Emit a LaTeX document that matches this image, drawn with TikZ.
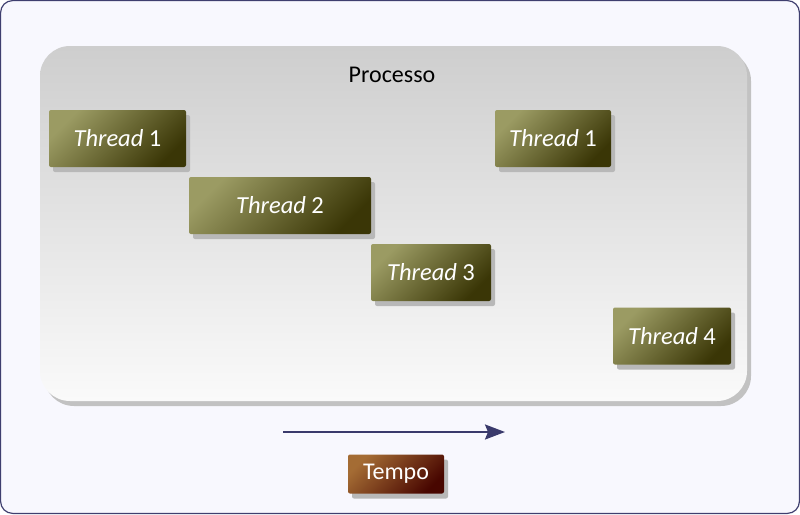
\documentclass[tikz,border=0pt]{standalone}
\usepackage{fontspec}
\setmainfont{Carlito}
\usetikzlibrary{arrows.meta,shadows,positioning}

\definecolor{framefill}{HTML}{F8F8FE}
\definecolor{frameline}{HTML}{3F3F6F}
\definecolor{proctop}{HTML}{CECECE}
\definecolor{procbottom}{HTML}{FAFAFA}
\definecolor{procshadow}{HTML}{C2C2C2}
\definecolor{threadlight}{HTML}{9B9B63}
\definecolor{threaddark}{HTML}{3A3606}
\definecolor{tempolight}{HTML}{A46C34}
\definecolor{tempodark}{HTML}{480600}
\definecolor{boxshadow}{HTML}{B8B8B8}
\definecolor{timeline}{HTML}{3A3A6C}

\begin{document}
\begin{tikzpicture}[%
x=1pt, y=-1pt,
>={Stealth[length=20pt,width=15pt,inset=3pt]},
thread/.style={rounded corners=2pt, top color=threadlight,
  bottom color=threaddark, shading angle=45, minimum height=57pt,
  inner sep=0pt, text=white, font=\fontsize{24.5}{28}\selectfont,
  drop shadow={shadow xshift=4pt, shadow yshift=-5pt,
  fill=boxshadow, opacity=1}},
tempobox/.style={thread, top color=tempolight, bottom color=tempodark,
  shading angle=45, minimum height=39pt, font=\fontsize{24}{28}\selectfont},
process/.style={rounded corners=30pt, top color=proctop,
  bottom color=procbottom, inner sep=0pt,
  drop shadow={shadow xshift=4pt, shadow yshift=-5pt,
  fill=procshadow, opacity=1}}
]
\useasboundingbox (0,0) rectangle (800,514);
\draw[frameline, fill=framefill, line width=1.2pt, rounded corners=12pt]
  (0.6,0.6) rectangle (799.4,513.4);

% processo
\node[process, minimum width=707pt, minimum height=355pt] (proc) at (393.5,223.5) {};
\node[font=\fontsize{24}{28}\selectfont] (titolo) at (392,75) {Processo};

% thread
\node[thread, minimum width=137pt] (t1a) at (117.5,138.5) {\textit{Thread} 1};
\node[thread, minimum width=182pt] (t2) at (280,205.5) {\textit{Thread} 2};
\node[thread, minimum width=120pt] (t3) at (431,272.5) {\textit{Thread} 3};
\node[thread, minimum width=116pt] (t1b) at (553,138.5) {\textit{Thread} 1};
\node[thread, minimum width=118pt] (t4) at (672,336) {\textit{Thread} 4};

% tempo
\coordinate (inizio) at (283,432);
\coordinate (fine) at (505,432);
\draw[->, timeline, line width=2pt] (inizio) -- (fine);
\node[tempobox, minimum width=96pt] (tempo) at (396,474) {Tempo};
\end{tikzpicture}
\end{document}
